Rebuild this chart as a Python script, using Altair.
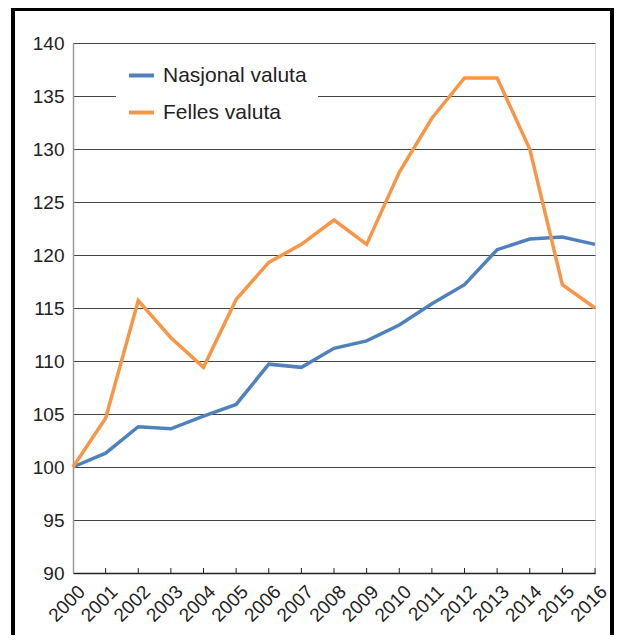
import altair as alt
import pandas as pd

years = list(range(2000, 2017))
nasjonal = [100.0, 101.3, 103.8, 103.6, 104.8, 105.9, 109.7, 109.4, 111.2, 111.9,
            113.4, 115.4, 117.2, 120.5, 121.5, 121.7, 121.0]
felles = [100.0, 104.6, 115.7, 112.2, 109.4, 115.8, 119.3, 121.0, 123.3, 121.0,
          127.8, 132.9, 136.7, 136.7, 130.0, 117.2, 115.0]
series_names = ["Nasjonal valuta", "Felles valuta"]
colors = ["#4F81BD", "#F79646"]
y_ticks = [90, 95, 100, 105, 110, 115, 120, 125, 130, 135, 140]

rows = []
for y, n, f in zip(years, nasjonal, felles):
    rows.append({"year": str(y), "series": series_names[0], "value": n})
    rows.append({"year": str(y), "series": series_names[1], "value": f})
df = pd.DataFrame(rows)
ticks_df = pd.DataFrame({"year": [str(y) for y in years[1:]]})
year_labels = [str(y) for y in years]

W, H = 522, 530
FONT = "Liberation Sans"

x_scale = alt.Scale(type="point", domain=year_labels, padding=0)
y_scale = alt.Scale(domain=[90, 140], nice=False, zero=False)

lines = alt.Chart(df).mark_line(strokeWidth=3.5, strokeJoin="miter").encode(
    x=alt.X("year:O", scale=x_scale,
            axis=alt.Axis(title=None, grid=False,
                          labelAngle=-45, labelAlign="right", labelBaseline="top",
                          labelPadding=9, labelOffset=2, labelFontSize=19,
                          labelFont=FONT, labelColor="#222", domainColor="#222",
                          domainWidth=1.5, ticks=False, labelOverlap=False)),
    y=alt.Y("value:Q", scale=y_scale,
            axis=alt.Axis(values=y_ticks, title=None, grid=True, gridColor="#444",
                          gridWidth=1, ticks=False, labelPadding=9, labelFontSize=19,
                          labelFont=FONT, labelColor="#222", domainColor="#999",
                          domainWidth=1.5)),
    color=alt.Color("series:N", scale=alt.Scale(domain=series_names, range=colors),
                    sort=series_names,
                    legend=alt.Legend(title=None, orient="none", legendX=43, legendY=7,
                                      fillColor="white", padding=11,
                                      symbolType="stroke", symbolSize=625,
                                      symbolStrokeWidth=4, labelFontSize=21,
                                      labelFont=FONT, labelColor="#222",
                                      rowPadding=12, labelOffset=7,
                                      labelLimit=400)),
)

ticks = alt.Chart(ticks_df).mark_rule(color="#222", strokeWidth=1).encode(
    x=alt.X("year:O", scale=x_scale),
    y=alt.value(H - 5),
    y2=alt.value(H),
)

frame = alt.Chart(ticks_df).mark_rect(filled=False, stroke="black", strokeWidth=3,
                                      clip=False).encode(
    x=alt.value(-60), x2=alt.value(539), y=alt.value(-34), y2=alt.value(H + 80),
)

chart = alt.layer(lines, ticks, frame).properties(
    width=W, height=H,
    padding={"left": 65, "top": 35, "right": 21, "bottom": 62},
    autosize=alt.AutoSizeParams(type="none"),
).configure_view(stroke=None).configure(background="white")

chart.save("out.html", embed_options={"renderer": "svg", "actions": False})
